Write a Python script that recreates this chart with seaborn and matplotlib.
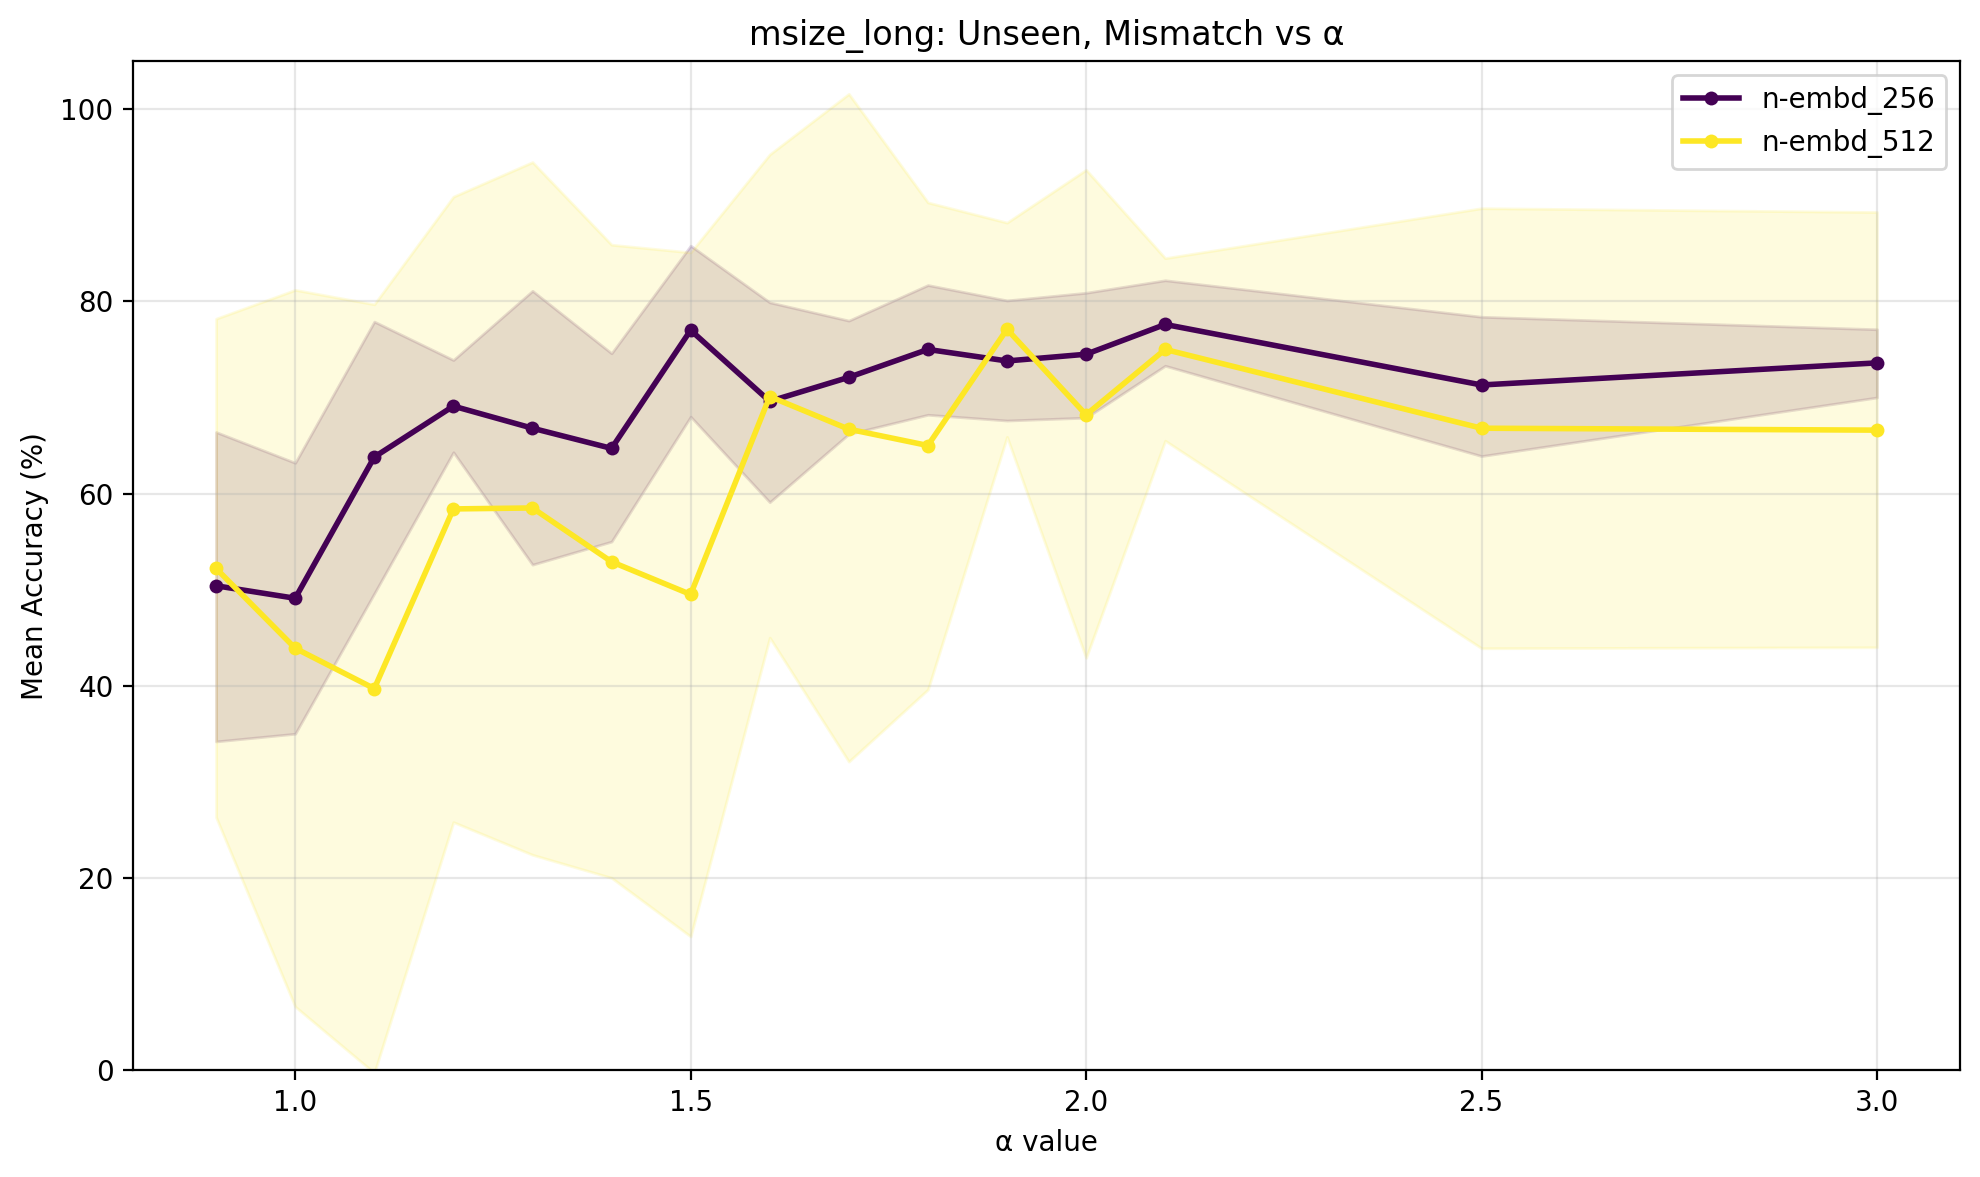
import numpy as np
import pandas as pd
import seaborn as sns
import matplotlib.pyplot as plt

alphas = [0.9, 1.0, 1.1, 1.2, 1.3, 1.4, 1.5, 1.6, 1.7, 1.8, 1.9, 2.0, 2.1, 2.5, 3.0]

mean_256 = [50.4, 49.1, 63.8, 69.1, 66.8, 64.7, 77.0, 69.6, 72.1, 75.0, 73.8, 74.5, 77.6, 71.3, 73.6]
upper_256 = [66.4, 63.2, 77.9, 73.9, 81.1, 74.6, 85.8, 79.9, 78.0, 81.7, 80.1, 80.9, 82.2, 78.4, 77.1]
lower_256 = [34.2, 35.0, 49.6, 64.3, 52.6, 55.0, 68.0, 59.1, 66.2, 68.2, 67.6, 67.9, 73.3, 63.9, 70.0]

mean_512 = [52.2, 43.9, 39.7, 58.4, 58.5, 52.9, 49.5, 70.1, 66.7, 65.0, 77.1, 68.2, 75.0, 66.8, 66.6]
upper_512 = [78.2, 81.2, 79.7, 90.9, 94.5, 85.9, 85.1, 95.3, 101.6, 90.3, 88.2, 93.7, 84.5, 89.7, 89.3]
lower_512 = [26.3, 6.6, -0.3, 25.8, 22.4, 20.0, 13.9, 45.0, 32.1, 39.6, 65.9, 42.9, 65.5, 43.9, 44.0]

labels = ["n-embd_256", "n-embd_512"]
colors = ["#440154", "#fde725"]

df = pd.DataFrame({
    "alpha": alphas * 2,
    "acc": mean_256 + mean_512,
    "model": [labels[0]] * len(alphas) + [labels[1]] * len(alphas),
})

fig, ax = plt.subplots(figsize=(9.9, 5.885), dpi=200)
fig.subplots_adjust(left=0.0672, right=0.9899, top=0.948, bottom=0.0909)

sns.lineplot(data=df, x="alpha", y="acc", hue="model", palette=colors,
             marker="o", markersize=5, markeredgewidth=0, linewidth=2, ax=ax)

ax.fill_between(alphas, lower_256, upper_256, color=colors[0], alpha=0.15)
ax.fill_between(alphas, lower_512, upper_512, color=colors[1], alpha=0.15)

ax.set_ylim(0, 105)
ax.set_title("msize_long: Unseen, Mismatch vs α")
ax.set_xlabel("α value")
ax.set_ylabel("Mean Accuracy (%)")
ax.grid(True, alpha=0.3)
ax.legend(loc="upper right")

fig.savefig("out.png")
